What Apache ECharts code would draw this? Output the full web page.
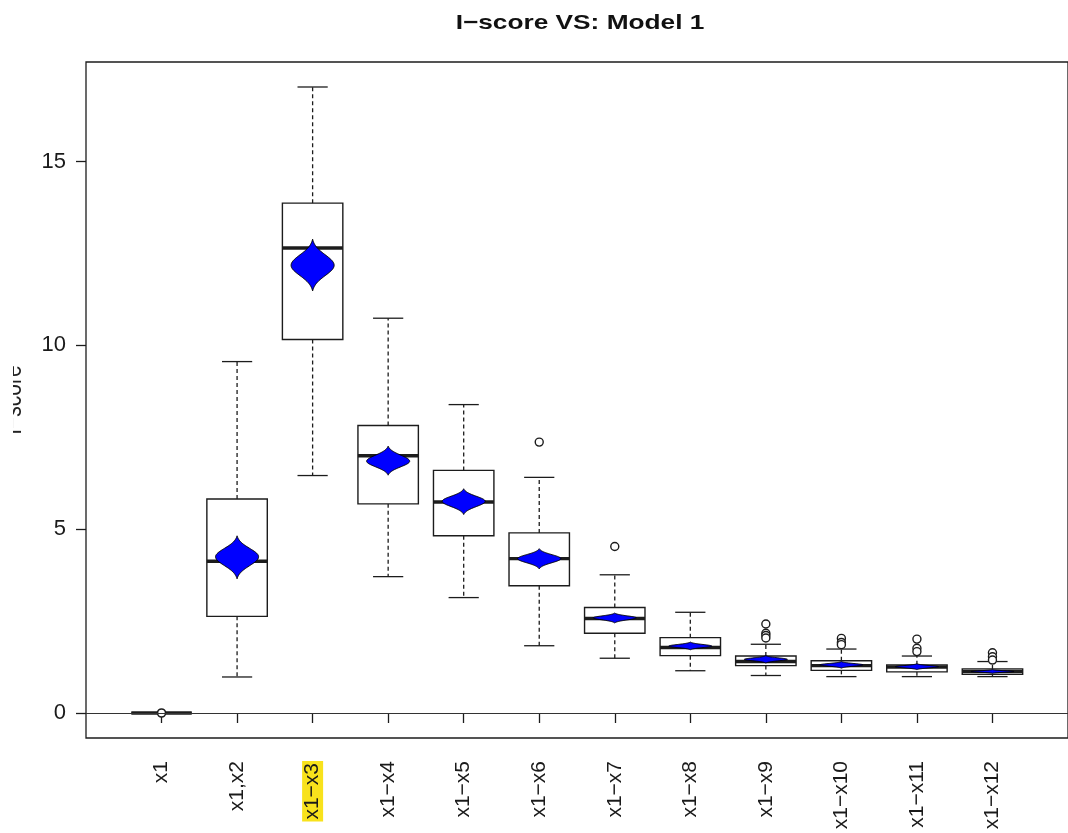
<!DOCTYPE html>
<html>
<head>
<meta charset="utf-8">
<script src="https://cdn.jsdelivr.net/npm/echarts@6/dist/echarts.min.js"></script>
<style>
  html, body { margin: 0; padding: 0; background: #fff; }
  #chart { width: 1068px; height: 833px; }
</style>
</head>
<body>
<div id="chart"></div>
<script>
// Interaction sets along the x axis
const categories = ['x1', 'x1,x2', 'x1−x3', 'x1−x4', 'x1−x5', 'x1−x6',
                    'x1−x7', 'x1−x8', 'x1−x9', 'x1−x10', 'x1−x11', 'x1−x12'];
const highlighted = 'x1−x3';

// Box plot statistics of the I-score per set
const whiskerLow  = [0, 0.98,  6.46, 3.71, 3.14, 1.83, 1.49, 1.15, 1.02, 0.99, 0.99, 0.99];
const quartile1   = [0, 2.63, 10.16, 5.69, 4.82, 3.46, 2.17, 1.56, 1.29, 1.16, 1.12, 1.05];
const medians     = [0, 4.13, 12.65, 7.00, 5.74, 4.20, 2.57, 1.78, 1.40, 1.29, 1.25, 1.13];
const quartile3   = [0, 5.82, 13.87, 7.82, 6.60, 4.90, 2.87, 2.05, 1.55, 1.42, 1.31, 1.20];
const whiskerHigh = [0, 9.56, 17.03, 10.74, 8.39, 6.41, 3.76, 2.74, 1.87, 1.74, 1.55, 1.40];

// Distribution of the mean score (violin: lower end, centre, upper end)
const meanLow    = [0, 3.65, 11.48, 6.47, 5.40, 3.92, 2.45, 1.72, 1.36, 1.22, 1.18, 1.08];
const meanCenter = [0, 4.25, 12.18, 6.85, 5.76, 4.20, 2.59, 1.82, 1.46, 1.31, 1.26, 1.13];
const meanHigh   = [0, 4.82, 12.89, 7.26, 6.10, 4.47, 2.72, 1.93, 1.56, 1.40, 1.34, 1.18];

// Outlying scores (category position, value)
const outlierCategory = [6, 7, 9, 9, 9, 9, 10, 10, 10, 11, 11, 11, 12, 12, 12];
const outlierValue    = [7.37, 4.53, 2.42, 2.17, 2.11, 2.04, 2.03, 1.92, 1.86,
                         2.01, 1.76, 1.67, 1.64, 1.53, 1.44];

const yTicks = [0, 5, 10, 15];
const yMin = -0.68, yMax = 17.71;

const FONT = '"Liberation Sans", Arial, Helvetica, sans-serif';
const INK = '#1c1c1c';

const boxData = categories.map((c, i) =>
  [i + 1, whiskerLow[i], quartile1[i], medians[i], quartile3[i], whiskerHigh[i]]);
const violinData = categories.map((c, i) =>
  [i + 1, meanLow[i], meanCenter[i], meanHigh[i]]);
const outlierData = outlierCategory.map((c, i) => [c, outlierValue[i]]);

function renderBox(params, api) {
  const x = api.value(0);
  const pLo = api.coord([x, api.value(1)]);
  const pQ1 = api.coord([x, api.value(2)]);
  const pMed = api.coord([x, api.value(3)]);
  const pQ3 = api.coord([x, api.value(4)]);
  const pHi = api.coord([x, api.value(5)]);
  const half = api.size([0.8, 0])[0] / 2;
  const cx = pMed[0];
  const line = (x1, y1, x2, y2, w, dash) => ({
    type: 'line',
    shape: { x1, y1, x2, y2 },
    style: { stroke: INK, lineWidth: w, lineDash: dash || null }
  });
  const children = [];
  if (pHi[1] < pQ3[1] - 0.5) {
    children.push(line(cx, pQ3[1], cx, pHi[1], 1.3, [4, 3]));
    children.push(line(cx - half / 2, pHi[1], cx + half / 2, pHi[1], 1.3));
  }
  if (pLo[1] > pQ1[1] + 0.5) {
    children.push(line(cx, pQ1[1], cx, pLo[1], 1.3, [4, 3]));
    children.push(line(cx - half / 2, pLo[1], cx + half / 2, pLo[1], 1.3));
  }
  children.push({
    type: 'rect',
    shape: { x: cx - half, y: pQ3[1], width: half * 2, height: pQ1[1] - pQ3[1] },
    style: { fill: '#fff', stroke: INK, lineWidth: 1.4 }
  });
  children.push(line(cx - half, pMed[1], cx + half, pMed[1], 3.4));
  return { type: 'group', children };
}

// Smooth lens profile with thin tips: g(t) rescaled so it reaches zero at t = 1
function lensWidth(t) {
  const s = 0.4;
  const g = Math.exp(-(t * t) / (2 * s * s));
  const g1 = Math.exp(-1 / (2 * s * s));
  return (g - g1) / (1 - g1);
}

function renderViolin(params, api) {
  const x = api.value(0);
  const pLo = api.coord([x, api.value(1)]);
  const pC = api.coord([x, api.value(2)]);
  const pHi = api.coord([x, api.value(3)]);
  const cx = pC[0];
  if (pLo[1] - pHi[1] < 1) {
    return {
      type: 'circle',
      shape: { cx, cy: pC[1], r: 4 },
      style: { fill: '#fff', stroke: INK, lineWidth: 1.6 }
    };
  }
  const W = api.size([0.285, 0])[0];
  const n = 40;
  const right = [], left = [];
  for (let k = n; k >= 0; k--) {
    const t = k / n;
    const y = pC[1] + t * (pHi[1] - pC[1]);
    const w = W * lensWidth(t);
    right.push([cx + w, y]);
    left.unshift([cx - w, y]);
  }
  for (let k = 1; k <= n; k++) {
    const t = k / n;
    const y = pC[1] + t * (pLo[1] - pC[1]);
    const w = W * lensWidth(t);
    right.push([cx + w, y]);
    left.unshift([cx - w, y]);
  }
  return {
    type: 'polygon',
    shape: { points: right.concat(left) },
    style: { fill: '#0000ff', stroke: '#000', lineWidth: 1 }
  };
}

const chart = echarts.init(document.getElementById('chart'), null, { renderer: 'canvas' });

chart.setOption({
  backgroundColor: '#ffffff',
  animation: false,
  graphic: [
    {
      type: 'text',
      x: 580, y: 23,
      scaleX: 1.25,
      style: {
        text: 'I−score VS: Model 1',
        x: 0, y: 0,
        align: 'center', verticalAlign: 'middle',
        font: 'bold 21px ' + FONT,
        fill: '#111'
      }
    },
    {
      type: 'text',
      x: 27, y: 400,
      rotation: Math.PI / 2,
      scaleY: 1.25,
      style: {
        text: 'I−score',
        x: 0, y: 0,
        align: 'center', verticalAlign: 'bottom',
        font: '21px ' + FONT,
        fill: '#222'
      }
    },
    {
      // left page margin trims the axis title
      type: 'rect',
      z: 100,
      shape: { x: 0, y: 340, width: 13, height: 120 },
      style: { fill: '#fff' }
    }
  ],
  grid: {
    left: 86, right: -8, top: 62, bottom: 95,
    show: true,
    borderColor: INK,
    borderWidth: 1.3,
    backgroundColor: 'transparent'
  },
  xAxis: {
    type: 'value',
    min: 0, max: 13,
    splitLine: { show: false },
    axisLine: { show: false },
    axisTick: {
      show: true, length: 10, inside: false,
      customValues: categories.map((c, i) => i + 1),
      lineStyle: { color: INK, width: 1.3 }
    },
    axisLabel: {
      show: true,
      customValues: categories.map((c, i) => i + 1),
      rotate: 90,
      margin: 23,
      fontSize: 21,
      fontFamily: FONT,
      color: '#1a1a1a',
      formatter: v => {
        const name = categories[Math.round(v) - 1] || '';
        return name === highlighted ? '{hl|' + name + '}' : name;
      },
      rich: {
        hl: {
          fontSize: 21,
          fontFamily: FONT,
          color: '#1a1a1a',
          backgroundColor: '#f8e21c',
          lineHeight: 19,
          padding: [0, 2, 0, 2]
        }
      }
    }
  },
  yAxis: {
    type: 'value',
    min: yMin, max: yMax,
    splitLine: { show: false },
    axisLine: { show: false },
    axisTick: {
      show: true, length: 10,
      customValues: yTicks,
      lineStyle: { color: INK, width: 1.3 }
    },
    axisLabel: {
      show: true,
      customValues: yTicks,
      margin: 20,
      fontSize: 22,
      fontFamily: FONT,
      color: '#1a1a1a'
    }
  },
  series: [
    {
      type: 'custom',
      name: 'boxes',
      z: 2,
      renderItem: renderBox,
      encode: { x: 0, y: [1, 2, 3, 4, 5] },
      data: boxData,
      markLine: {
        silent: true,
        symbol: ['none', 'none'],
        label: { show: false },
        lineStyle: { color: '#333', width: 1, type: 'solid' },
        data: [{ yAxis: 0 }]
      }
    },
    {
      type: 'custom',
      name: 'mean',
      z: 3,
      renderItem: renderViolin,
      encode: { x: 0, y: [1, 2, 3] },
      data: violinData
    },
    {
      type: 'scatter',
      name: 'outliers',
      z: 4,
      symbol: 'circle',
      symbolSize: 8,
      itemStyle: { color: '#ffffff', borderColor: INK, borderWidth: 1.4, opacity: 1 },
      data: outlierData
    }
  ]
});
</script>
</body>
</html>
